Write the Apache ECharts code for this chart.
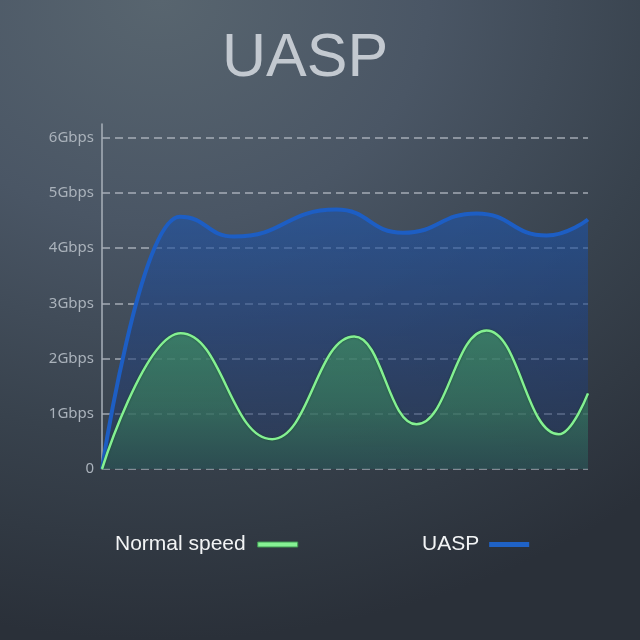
<!DOCTYPE html>
<html>
<head>
<meta charset="utf-8">
<script src="https://cdn.jsdelivr.net/npm/echarts@6/dist/echarts.min.js"></script>
<style>
html,body{margin:0;padding:0;width:640px;height:640px;overflow:hidden;}
body{background:radial-gradient(ellipse 120% 100% at 25% 0%, #58656f 0%, #4a5665 35%, #38424d 68%, #2a3039 100%);}
#c{width:640px;height:640px;}
</style>
</head>
<body>
<div id="c"></div>
<script>
// x positions are percentages of the horizontal span of the chart
const uaspX      = [0, 16.0, 27.2, 48.2, 61.9, 77.1, 91.5, 100];
const uaspY      = [0, 4.57, 4.21, 4.70, 4.28, 4.63, 4.23, 4.52];
const normalX    = [0, 16.2, 35.0, 51.9, 64.7, 79.1, 94.0, 100];
const normalY    = [0, 2.46, 0.54, 2.40, 0.81, 2.51, 0.63, 1.37];
const yTickLabels = ['0', '1Gbps', '2Gbps', '3Gbps', '4Gbps', '5Gbps', '6Gbps'];
const seriesNames = ['Normal speed', 'UASP'];
const titleText = 'UASP';

const pairs = (xs, ys) => xs.map((x, i) => [x, ys[i]]);
const chart = echarts.init(document.getElementById('c'));
chart.setOption({
  backgroundColor: 'transparent',
  title: {
    text: titleText, left: 217, top: 24,
    textStyle: {fontFamily: 'Liberation Sans', fontSize: 61, fontWeight: 'normal', color: '#c3c9d0'}
  },
  grid: {left: 102, right: 52, top: 124, bottom: 171},
  xAxis: {
    type: 'value', min: 0, max: 100,
    axisLine: {show: false}, axisTick: {show: false}, axisLabel: {show: false}, splitLine: {show: false}
  },
  yAxis: {
    type: 'value', min: 0, max: 6.25, interval: 1,
    axisLine: {show: true, lineStyle: {color: '#a9b1ba', width: 1.5}},
    axisTick: {show: false},
    axisLabel: {
      showMaxLabel: false, margin: 8,
      fontFamily: 'Noto Sans', fontSize: 15, color: '#aab2bb',
      formatter: v => (Number.isInteger(v) ? yTickLabels[v] : '')
    },
    splitLine: {show: true, showMaxLine: false, lineStyle: {color: 'rgba(195,202,210,0.75)', width: 1.5, type: [8, 5]}}
  },
  legend: [
    {data: [seriesNames[0]], left: 110, top: 529, align: 'right', icon: 'rect', itemWidth: 40, itemHeight: 5,
     itemStyle: {borderColor: '#3f9a52', borderWidth: 1},
     textStyle: {fontFamily: 'Liberation Sans', fontSize: 21, color: '#f2f4f5', padding: [0, 7, 0, 0]}},
    {data: [seriesNames[1]], left: 417, top: 529, align: 'right', icon: 'rect', itemWidth: 40, itemHeight: 5,
     textStyle: {fontFamily: 'Liberation Sans', fontSize: 21, color: '#f2f4f5', padding: [0, 5, 0, 0]}}
  ],
  series: [
    {
      name: seriesNames[1], type: 'line', smooth: 0.5, smoothMonotone: 'x', symbol: 'none',
      data: pairs(uaspX, uaspY),
      itemStyle: {color: '#1f62c6'},
      lineStyle: {color: '#1d5ec4', width: 4},
      areaStyle: {color: new echarts.graphic.LinearGradient(0, 0, 0, 1, [
        {offset: 0, color: 'rgba(30,84,168,0.9)'},
        {offset: 0.5, color: 'rgba(34,66,126,0.86)'},
        {offset: 1, color: 'rgba(38,56,94,0.72)'}
      ])},
      z: 2
    },
    {
      name: seriesNames[0], type: 'line', smooth: 0.45, smoothMonotone: 'x', symbol: 'none',
      data: pairs(normalX, normalY),
      itemStyle: {color: '#86f294'},
      lineStyle: {color: '#84f092', width: 2.5, shadowColor: 'rgba(20,70,40,0.9)', shadowBlur: 2},
      areaStyle: {color: new echarts.graphic.LinearGradient(0, 0, 0, 1, [
        {offset: 0, color: 'rgba(66,152,98,0.92)'},
        {offset: 0.55, color: 'rgba(56,128,90,0.88)'},
        {offset: 1, color: 'rgba(44,88,80,0.85)'}
      ])},
      z: 3
    }
  ]
});
</script>
</body>
</html>
